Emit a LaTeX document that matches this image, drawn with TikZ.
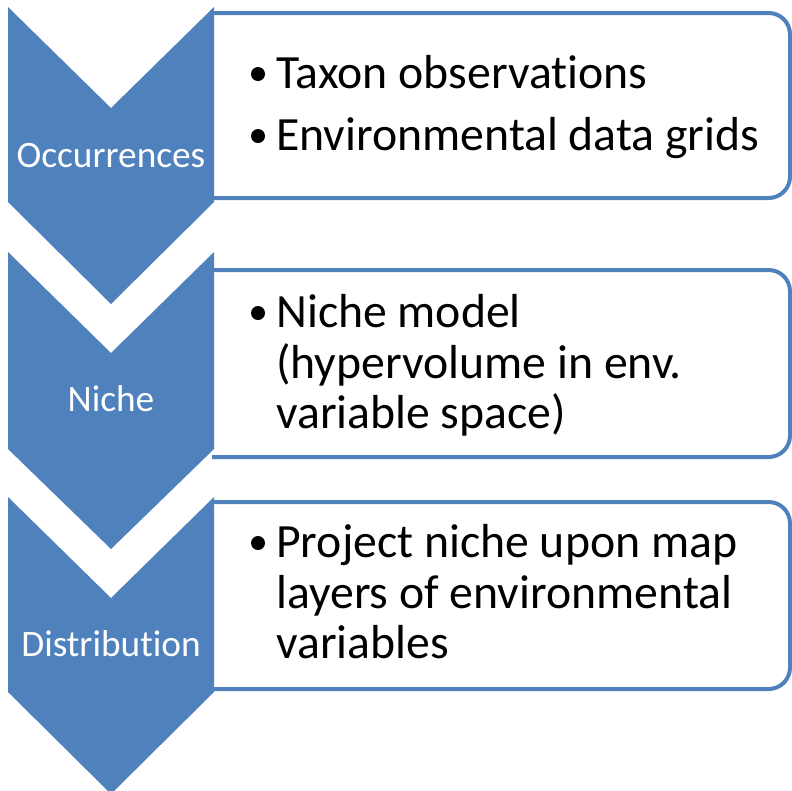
\documentclass[tikz,border=0pt]{standalone}
\usepackage{fontspec}
\setmainfont{Carlito}[Ligatures=NoCommon]
\definecolor{stepblue}{HTML}{4F81BD}

\begin{document}
\begin{tikzpicture}[x=0.75pt,y=-0.75pt,
  chev/.style={fill=stepblue,draw=none},
  bx/.style={draw=stepblue,line width=3pt,rounded corners=16pt},
  lbl/.style={white,font=\fontsize{28}{33}\selectfont,anchor=base,inner sep=0pt},
  txt/.style={font=\fontsize{35.8}{43}\selectfont,anchor=base west,inner sep=0pt},
  bul/.style={circle,fill=black,inner sep=0pt,minimum size=10.5pt}]
\useasboundingbox (0,0) rectangle (792,790);
%boxes first, the chevrons hide their left ends
\draw[bx] (212,13) -- (790,13) -- (790,198) -- (212,198);
\draw[bx] (212,270) -- (790,270) -- (790,457) -- (212,457);
\draw[bx] (212,502) -- (790,502) -- (790,689) -- (212,689);
%chevrons
\fill[chev] (8,7) -- (111,108) -- (214,7) -- (214,202) -- (111,304) -- (8,202) -- cycle;
\fill[chev] (8,252) -- (111,353) -- (214,252) -- (214,449) -- (111,549) -- (8,449) -- cycle;
\fill[chev] (8,497) -- (111,598) -- (214,497) -- (214,692) -- (111,794) -- (8,692) -- cycle;
\node[lbl] (occ) at (111,167) {Occurrences};
\node[lbl] (niche) at (111,411) {Niche};
\node[lbl] (distr) at (111,656) {Distribution};
%box 1
\node[bul] (b1a) at (258,74) {};
\node[txt] (t1a) at (276,88) {Taxon observations};
\node[bul] (b1b) at (258,136) {};
\node[txt] (t1b) at (276,150) {Environmental data grids};
%box 2
\node[bul] (b2a) at (258,313) {};
\node[txt] (t2a) at (276,327) {Niche model};
\node[txt] (t2b) at (276,378) {(hypervolume in env.};
\node[txt] (t2c) at (276,428) {variable space)};
%box 3
\node[bul] (b3a) at (258,543) {};
\node[txt] (t3a) at (276,557) {Project niche upon map};
\node[txt] (t3b) at (276,608) {layers of environmental};
\node[txt] (t3c) at (276,658) {variables};
\end{tikzpicture}
\end{document}
